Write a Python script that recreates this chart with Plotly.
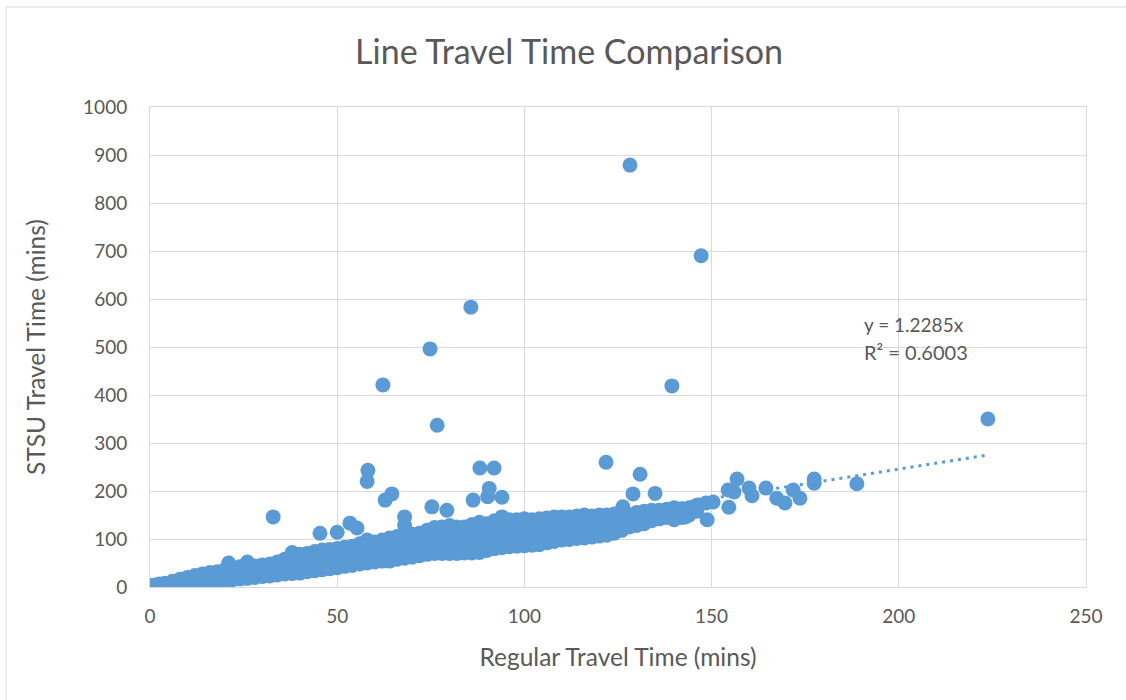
import plotly.graph_objects as go

# ---- data ----
# dense band of points
band_x = [0.5, 0.5, 1.5, 1.5, 2.5, 2.5, 4, 4, 6, 6, 8, 8, 10, 10,
          12, 12, 12, 14, 14, 14, 16, 16, 16, 18, 18, 18, 20, 20, 20, 21,
          22, 22, 22, 24, 24, 24, 26, 26, 26, 28, 28, 28, 30, 30, 30, 32, 32, 32,
          34, 34, 34, 36, 36, 36,
          38, 38, 38, 38, 40, 40, 40, 40, 42, 42, 42, 42, 44, 44, 44, 44,
          46, 46, 46, 46, 48, 48, 48, 48, 50, 50, 50, 50, 52, 52, 52, 52,
          54, 54, 54, 54, 56, 56, 56, 56, 58, 58, 58, 58, 60, 60, 60, 60,
          62, 62, 62, 62, 64, 64, 64, 64, 66, 66, 66, 66, 68, 68, 68, 68, 68,
          70, 70, 70, 70, 72, 72, 72, 72, 74, 74, 74, 74, 76, 76, 76, 76,
          78, 78, 78, 78, 80, 80, 80, 80, 82, 82, 82, 82, 84, 84, 84, 84,
          86, 86, 86, 86, 88, 88, 88, 88, 90, 90, 90, 90, 92, 92, 92, 92,
          94, 94, 94, 94, 96, 96, 96, 96, 98, 98, 98, 98, 100, 100, 100, 100,
          102, 102, 102, 102, 104, 104, 104, 104, 106, 106, 106, 106,
          108, 108, 108, 108, 110, 110, 110, 110, 112, 112, 112, 112,
          114, 114, 114, 114, 116, 116, 116, 116, 118, 118, 118, 118,
          120, 120, 120, 120, 122, 122, 122, 122, 124, 124, 124, 124,
          126, 126, 126, 126, 128, 128, 128, 130, 130, 130, 132, 132, 132,
          134, 134, 134, 136, 136, 136, 138, 138, 138, 140, 140, 140,
          142, 142, 142, 144, 144, 146, 146]
band_y = [0, 3, 1, 4, 2, 6, 2, 8, 3, 12, 4, 16, 5, 20,
          7, 16, 24, 9, 18, 27, 10, 20, 30, 12, 22, 32, 13, 24, 36, 50,
          15, 26, 38, 17, 30, 42, 18, 34, 52, 20, 32, 44, 22, 34, 46, 23, 36, 48,
          25, 38, 52, 27, 42, 58,
          28, 42, 56, 72, 29, 43, 57, 68, 32, 46, 60, 70, 34, 48, 62, 74,
          36, 50, 64, 77, 38, 52, 66, 78, 40, 54, 68, 80, 43, 56, 70, 83,
          45, 58, 72, 85, 48, 62, 76, 90, 50, 64, 80, 98, 52, 66, 80, 94,
          54, 68, 82, 98, 54, 70, 86, 102, 58, 72, 88, 105, 60, 76, 94, 112, 128,
          62, 78, 94, 110, 65, 80, 96, 112, 68, 84, 100, 118, 70, 86, 104, 124,
          70, 88, 106, 125, 70, 88, 106, 128, 70, 88, 106, 125, 71, 88, 106, 125,
          71, 90, 110, 130, 72, 92, 112, 135, 76, 94, 114, 132, 80, 98, 118, 138,
          82, 100, 122, 146, 84, 102, 120, 140, 85, 104, 122, 140, 86, 104, 124, 142,
          87, 106, 124, 140, 88, 106, 124, 142, 92, 110, 128, 144,
          95, 112, 130, 146, 98, 114, 130, 146, 99, 116, 132, 146,
          101, 118, 134, 148, 102, 118, 134, 150, 104, 120, 136, 148,
          106, 122, 138, 150, 108, 124, 140, 150, 112, 128, 142, 152,
          118, 132, 146, 155, 125, 138, 150, 128, 142, 155, 132, 146, 158,
          138, 150, 160, 142, 152, 160, 145, 155, 162, 140, 152, 165,
          145, 156, 163, 150, 165, 158, 170]

# points standing above the band
upper_x = [128.2, 147.2, 85.7, 74.8, 62.2, 139.4, 76.7, 121.8, 88.1, 91.9, 58.2, 58.0,
           62.8, 64.6, 130.9, 134.9, 90.6, 90.2, 94.0, 86.3, 129.0, 32.9, 45.4, 50.0,
           53.4, 55.3, 68.0, 75.3, 79.3, 126.3, 127.7]
upper_y = [879, 690, 583, 496, 421, 419, 337, 260, 248, 248, 243, 220,
           181, 194, 235, 195, 205, 188, 187, 181, 194, 146, 112, 114,
           133, 123, 146, 167, 160, 167, 133]

# long-trip tail
tail_x = [139.4, 143.0, 146.4, 148.8, 148.5, 150.4, 154.4, 154.6, 156.0, 156.8, 160.0, 160.8,
          164.5, 167.4, 169.6, 171.8, 173.6, 177.4, 177.4, 188.8, 223.8]
tail_y = [144, 146, 171, 140, 175, 177, 202, 166, 198, 225, 206, 190,
          206, 185, 175, 202, 185, 225, 216, 215, 350]

trend_slope = 1.2285
trend_r2 = 0.6003
x_ticks = [0, 50, 100, 150, 200, 250]
y_ticks = [0, 100, 200, 300, 400, 500, 600, 700, 800, 900, 1000]

all_x = band_x + upper_x + tail_x
all_y = band_y + upper_y + tail_y
trend_x = [min(all_x), max(all_x)]
trend_y = [trend_slope * v for v in trend_x]

BLUE = "#5B9BD5"
TXT = "#595959"
GRID = "#D9D9D9"
FONT = "Lato"

fig = go.Figure()
fig.add_trace(go.Scatter(x=all_x, y=all_y, mode="markers",
                         marker=dict(size=15, color=BLUE, line=dict(width=0)),
                         showlegend=False, hoverinfo="x+y"))
fig.add_trace(go.Scatter(x=trend_x, y=trend_y, mode="lines",
                         line=dict(color=BLUE, width=3, dash="3px,5px"),
                         showlegend=False, hoverinfo="skip"))

fig.add_annotation(x=190.2, y=546, xref="x", yref="y", xanchor="left", yanchor="middle",
                   text=f"y = {trend_slope}x", showarrow=False,
                   font=dict(family=FONT, size=19, color=TXT))
fig.add_annotation(x=190.2, y=490, xref="x", yref="y", xanchor="left", yanchor="middle",
                   text=f"R² = {trend_r2:.4f}", showarrow=False,
                   font=dict(family=FONT, size=20, color=TXT))

# chart-area border
fig.add_shape(type="rect", xref="paper", yref="paper",
              x0=-0.1538, x1=1.2, y0=-0.4, y1=1.2083,
              line=dict(color=GRID, width=1), fillcolor="rgba(0,0,0,0)", layer="below")

fig.update_layout(
    width=1126, height=700,
    margin=dict(l=150, r=40, t=107, b=113),
    paper_bgcolor="white", plot_bgcolor="white",
    title=dict(text="Line Travel Time Comparison", x=(569 - 150) / 936, xanchor="center",
               y=(700 - 52) / 700, yanchor="middle", xref="paper",
               font=dict(family=FONT, size=34, color=TXT)),
    font=dict(family=FONT, color=TXT),
)
fig.update_xaxes(range=[0, 250], tickvals=x_ticks, showgrid=True, gridcolor=GRID, gridwidth=1,
                 zeroline=False, showline=True, linecolor=GRID, mirror=True,
                 ticks="outside", ticklen=12, tickcolor="rgba(0,0,0,0)",
                 tickfont=dict(family=FONT, size=19, color=TXT),
                 title=dict(text="Regular Travel Time (mins)", standoff=23,
                            font=dict(family=FONT, size=24.5, color=TXT)))
fig.update_yaxes(range=[0, 1000], tickvals=y_ticks, showgrid=True, gridcolor=GRID, gridwidth=1,
                 zeroline=False, showline=True, linecolor=GRID, mirror=True,
                 ticks="outside", ticklen=18, tickcolor="rgba(0,0,0,0)",
                 tickfont=dict(family=FONT, size=19, color=TXT),
                 title=dict(text="STSU Travel Time (mins)", standoff=30,
                            font=dict(family=FONT, size=24.5, color=TXT)))

fig.write_html("out.html", config={"displayModeBar": False},
               post_script="document.body.style.margin='0';")
